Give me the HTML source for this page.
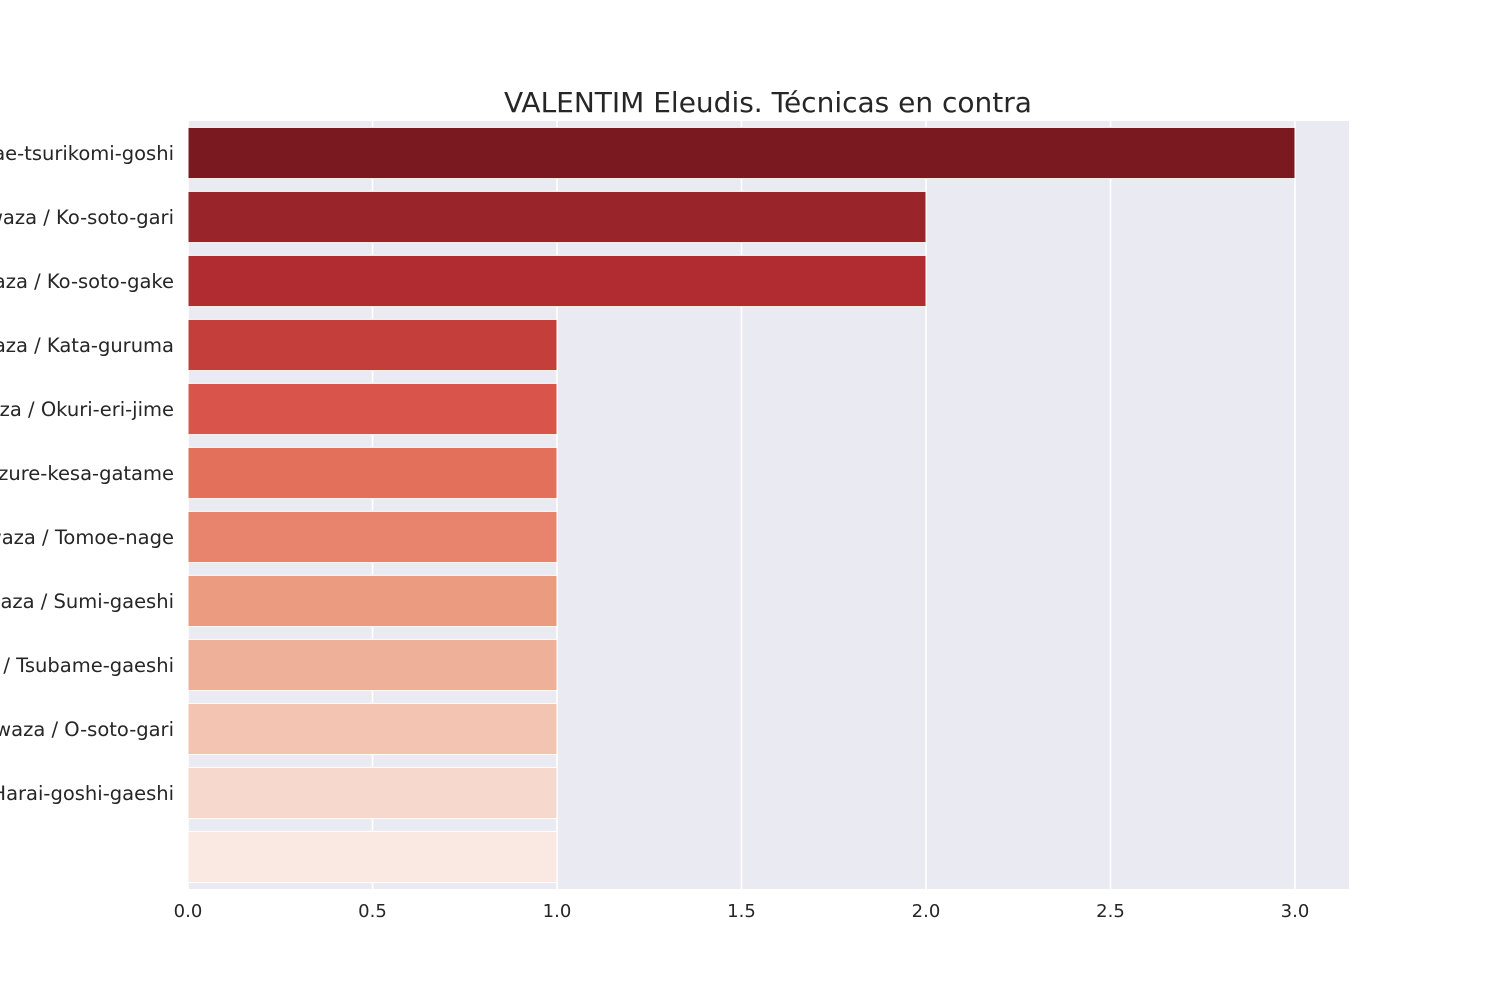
<!DOCTYPE html>
<html><head><meta charset="utf-8"><style>
body{margin:0;background:#fff}
svg{display:block;font-family:"DejaVu Sans","Liberation Sans",sans-serif}
</style></head><body>
<svg id="chart" width="1500" height="1000" viewBox="0 0 1500 1000">
<rect x="188" y="121" width="1161" height="768" fill="#eaeaf2"/>
<g id="grid"></g><g id="bars"></g><g id="ylabels"></g><g id="xticks"></g>
<text x="768" y="112" text-anchor="middle" font-size="28" fill="#262626">VALENTIM Eleudis. Técnicas en contra</text>
</svg>
<script>
const categories=["Ashi-waza / Sasae-tsurikomi-goshi","Ashi-waza / Ko-soto-gari","Ashi-waza / Ko-soto-gake","Te-waza / Kata-guruma","Shime-waza / Okuri-eri-jime","Osaekomi-waza / Kuzure-kesa-gatame","Sutemi-waza / Tomoe-nage","Sutemi-waza / Sumi-gaeshi","Ashi-waza / Tsubame-gaeshi","Ashi-waza / O-soto-gari","Koshi-waza / Harai-goshi-gaeshi",""];
const values=[3,2,2,1,1,1,1,1,1,1,1,1];
const colors=["#7b1920","#99242a","#b02c31","#c43f3b","#d9544a","#e2705b","#e8846d","#eb9c80","#efb09a","#f3c4b1","#f6d9cc","#fae9e2"];
const xTicks=[0,0.5,1,1.5,2,2.5,3];
const NS="http://www.w3.org/2000/svg";
const x0=188,pxPerUnit=369,top0=121,band=64;
const xs=v=>x0+v*pxPerUnit;
function mk(t,a,p){const e=document.createElementNS(NS,t);for(const k in a)e.setAttribute(k,a[k]);p.appendChild(e);return e;}
const grid=document.getElementById('grid'),bars=document.getElementById('bars'),yl=document.getElementById('ylabels'),xt=document.getElementById('xticks');
xTicks.forEach(t=>{
 const l=mk('line',{x1:xs(t),x2:xs(t),y1:121,y2:889,stroke:'#fff','stroke-width':1.6},grid);
 
 
 const tx=mk('text',{x:xs(t),y:917,'text-anchor':'middle','font-size':18,fill:'#262626'},xt);
 tx.textContent=t.toFixed(1);
 
 
});
categories.forEach((c,i)=>{
 const cy=top0+band*i+band/2;
 const r=mk('rect',{x:x0,y:cy-band*0.4,width:xs(values[i])-x0,height:band*0.8,fill:colors[i],stroke:'#fff','stroke-width':1},bars);
 
 
 const tx=mk('text',{x:174,y:cy+7,'text-anchor':'end','font-size':19.5,fill:'#262626'},yl);
 tx.textContent=c;
 
 
});
</script>
</body></html>
